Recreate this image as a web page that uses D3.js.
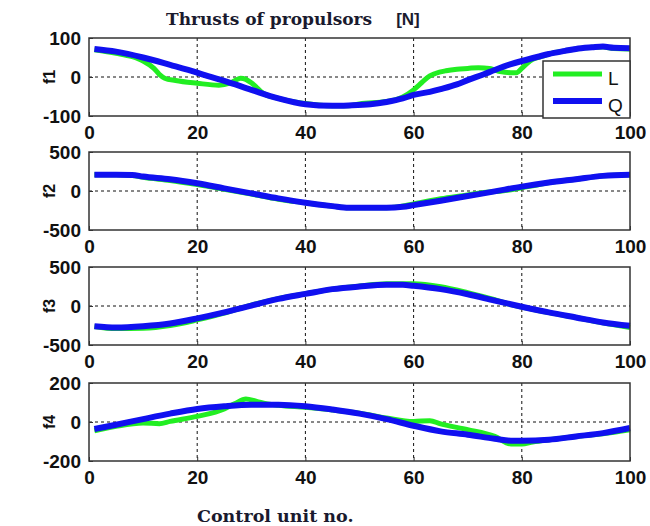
<!DOCTYPE html>
<html>
<head>
<meta charset="utf-8">
<script src="https://cdn.jsdelivr.net/npm/d3@7"></script>
<style>
  body { margin: 0; background: #fff; }
  svg { display: block; }
</style>
</head>
<body>
<script>
// values, [control unit no., thrust]
const f1L = [[1,70],[5,61],[8,52],[10,41],[12,22],[13,7],[14,-3],[16,-9],[20,-16],[24,-21],[26,-16],[27,-9],[28,-3],[29,-6],[30,-15],[31,-27],[32,-40],[35,-55],[40,-68],[45,-74],[48,-74],[50,-69],[55,-63],[58,-51],[60,-33],[61,-21],[62,-8],[63,3],[64,9],[66,16],[68,20],[70,22],[72,24],[74,22],[75,18],[76,14],[78,11],[79,11],[80,22],[81,35],[82,45],[84,54],[85,59],[88,67],[90,72],[93,76],[95,77],[97,73],[100,72]];
const f1Q = [[1,72],[5,65],[10,50],[15,31],[20,11],[22,2],[25,-10],[30,-33],[35,-55],[40,-70],[45,-74],[48,-73],[52,-70],[55,-64],[58,-55],[60,-46],[63,-38],[65,-31],[68,-19],[70,-8],[73,7],[75,18],[78,33],[80,41],[83,52],[85,59],[88,67],[90,72],[93,76],[95,78],[97,75],[100,74]];

const f2L = [[1,207],[5,207],[8,200],[10,175],[15,135],[20,82],[25,22],[30,-40],[35,-105],[40,-151],[45,-194],[48,-215],[55,-215],[57,-205],[60,-165],[65,-100],[70,-50],[73,-18],[75,-8],[78,15],[80,42],[83,80],[85,108],[90,151],[95,194],[100,207]];
const f2Q = [[1,207],[5,207],[8,205],[10,185],[15,151],[20,99],[25,34],[30,-30],[35,-95],[40,-151],[45,-194],[48,-215],[55,-215],[58,-203],[60,-181],[65,-125],[70,-65],[75,-5],[80,56],[85,108],[90,151],[95,194],[100,207]];

const f3L = [[1,-262],[5,-290],[10,-285],[15,-250],[20,-178],[25,-92],[28,-30],[30,12],[35,95],[40,158],[45,216],[50,255],[55,285],[60,285],[65,248],[70,172],[75,82],[78,18],[80,-15],[85,-85],[90,-147],[95,-215],[100,-275]];
const f3Q = [[1,-259],[5,-276],[10,-259],[15,-224],[20,-159],[25,-82],[30,5],[35,91],[40,155],[45,216],[50,250],[55,272],[58,272],[60,259],[65,216],[70,151],[75,69],[80,-9],[85,-82],[90,-147],[95,-211],[100,-254]];

const f4L = [[1,-45],[5,-22],[10,-5],[13,-9],[15,3],[20,29],[25,67],[27,95],[29,118],[31,106],[33,93],[35,86],[40,75],[45,62],[50,45],[55,21],[60,3],[63,7],[65,-10],[70,-39],[75,-74],[78,-113],[80,-113],[82,-103],[85,-91],[90,-74],[95,-60],[100,-40]];
const f4Q = [[1,-36],[5,-14],[10,15],[15,43],[20,67],[25,81],[30,89],[35,89],[40,81],[45,64],[50,43],[55,15],[60,-19],[65,-48],[70,-65],[75,-86],[78,-96],[80,-96],[85,-91],[90,-74],[95,-57],[100,-31]];

const panelNames = ['f1', 'f2', 'f3', 'f4'];
const yLimits = [100, 500, 500, 200];
const xTicks = [0, 20, 40, 60, 80, 100];
const seriesNames = ['L', 'Q'];

const panels = [
  { name: panelNames[0], lim: yLimits[0], L: f1L, Q: f1Q },
  { name: panelNames[1], lim: yLimits[1], L: f2L, Q: f2Q },
  { name: panelNames[2], lim: yLimits[2], L: f3L, Q: f3Q },
  { name: panelNames[3], lim: yLimits[3], L: f4L, Q: f4Q },
];

const width = 650;
const height = 526;
const left = 89;
const right = 630;
const tops = [38, 152, 267, 383];
const ph = 78;
const colors = { L: '#22ee22', Q: '#1010f0' };
const widths = { L: 5, Q: 6 };
const tickFont = '"Liberation Sans", Arial, sans-serif';

const svg = d3.select('body')
  .append('svg')
  .attr('width', width)
  .attr('height', height);

const x = d3.scaleLinear().domain([0, 100]).range([left, right]);

panels.forEach((p, i) => {
  const top = tops[i];
  const y = d3.scaleLinear().domain([-p.lim, p.lim]).range([top + ph, top]);
  const g = svg.append('g');

  // grid (MATLAB dotted)
  g.selectAll('.vgrid')
    .data(xTicks.slice(1, -1))
    .enter()
    .append('line')
    .attr('x1', (d) => x(d)).attr('x2', (d) => x(d))
    .attr('y1', top).attr('y2', top + ph)
    .attr('stroke', '#111')
    .attr('stroke-width', 1)
    .attr('stroke-dasharray', '3,3');

  g.append('line')
    .attr('x1', x(0)).attr('x2', x(100))
    .attr('y1', y(0)).attr('y2', y(0))
    .attr('stroke', '#111')
    .attr('stroke-width', 1)
    .attr('stroke-dasharray', '3,3');

  // data, L under Q
  const line = d3.line()
    .x((d) => x(d[0]))
    .y((d) => y(d[1]))
    .curve(d3.curveMonotoneX);

  seriesNames.forEach((s) => {
    g.append('path')
      .datum(p[s])
      .attr('d', line)
      .attr('fill', 'none')
      .attr('stroke', colors[s])
      .attr('stroke-width', widths[s])
      .attr('stroke-linejoin', 'round');
  });

  // axes with inward ticks
  const fmt = (d) => String(d);
  const xAxis = d3.axisBottom(x).tickValues(xTicks).tickFormat(fmt).tickSizeInner(-4).tickSizeOuter(0).tickPadding(9);
  const yAxis = d3.axisLeft(y).tickValues([-p.lim, 0, p.lim]).tickFormat(fmt).tickSizeInner(-4).tickSizeOuter(0).tickPadding(8);

  const gx = g.append('g')
    .attr('transform', `translate(0,${top + ph})`)
    .call(xAxis);
  const gy = g.append('g')
    .attr('transform', `translate(${left},0)`)
    .call(yAxis);

  [gx, gy].forEach((a) => {
    a.select('.domain').remove();
    a.selectAll('.tick line').attr('stroke', '#333');
    a.selectAll('.tick text')
      .attr('fill', '#111')
      .style('font-family', tickFont)
      .style('font-weight', 'bold')
      .style('font-size', '19px');
  });
  gx.selectAll('.tick text').attr('dy', '0.72em');

  // box
  g.append('rect')
    .attr('x', left).attr('y', top)
    .attr('width', right - left).attr('height', ph)
    .attr('fill', 'none')
    .attr('stroke', '#333')
    .attr('stroke-width', 1.5);

  g.append('text')
    .attr('transform', `translate(55,${top + ph / 2}) rotate(-90)`)
    .attr('text-anchor', 'middle')
    .style('font-family', tickFont)
    .style('font-weight', 'bold')
    .style('font-size', '16px')
    .attr('fill', '#111')
    .text(p.name);
});

// legend
const lg = svg.append('g');
lg.append('rect')
  .attr('x', 543).attr('y', 61)
  .attr('width', 630 - 543).attr('height', 57)
  .attr('fill', '#fff')
  .attr('stroke', '#333')
  .attr('stroke-width', 1.5);

seriesNames.forEach((s, i) => {
  const ly = 74 + i * 27;
  lg.append('line')
    .attr('x1', 553).attr('x2', 602)
    .attr('y1', ly).attr('y2', ly)
    .attr('stroke', colors[s])
    .attr('stroke-width', widths[s]);
  lg.append('text')
    .attr('x', 608).attr('y', ly + 4)
    .attr('dy', '0.35em')
    .style('font-family', tickFont)
    .style('font-size', '19px')
    .attr('fill', '#111')
    .text(s);
});

// title and x label
const serif = '"DejaVu Serif", "Liberation Serif", serif';
const title = svg.append('text')
  .attr('x', 166).attr('y', 25)
  .style('font-family', serif)
  .style('font-weight', 'bold')
  .style('font-size', '17px')
  .attr('fill', '#1a1a2e');
title.append('tspan').text('Thrusts of propulsors');
title.append('tspan')
  .attr('dx', 24)
  .style('font-family', tickFont)
  .text('[N]');

svg.append('text')
  .attr('x', 197).attr('y', 522)
  .style('font-family', serif)
  .style('font-weight', 'bold')
  .style('font-size', '17.5px')
  .attr('fill', '#1a1a2e')
  .text('Control unit no.');
</script>
</body>
</html>
